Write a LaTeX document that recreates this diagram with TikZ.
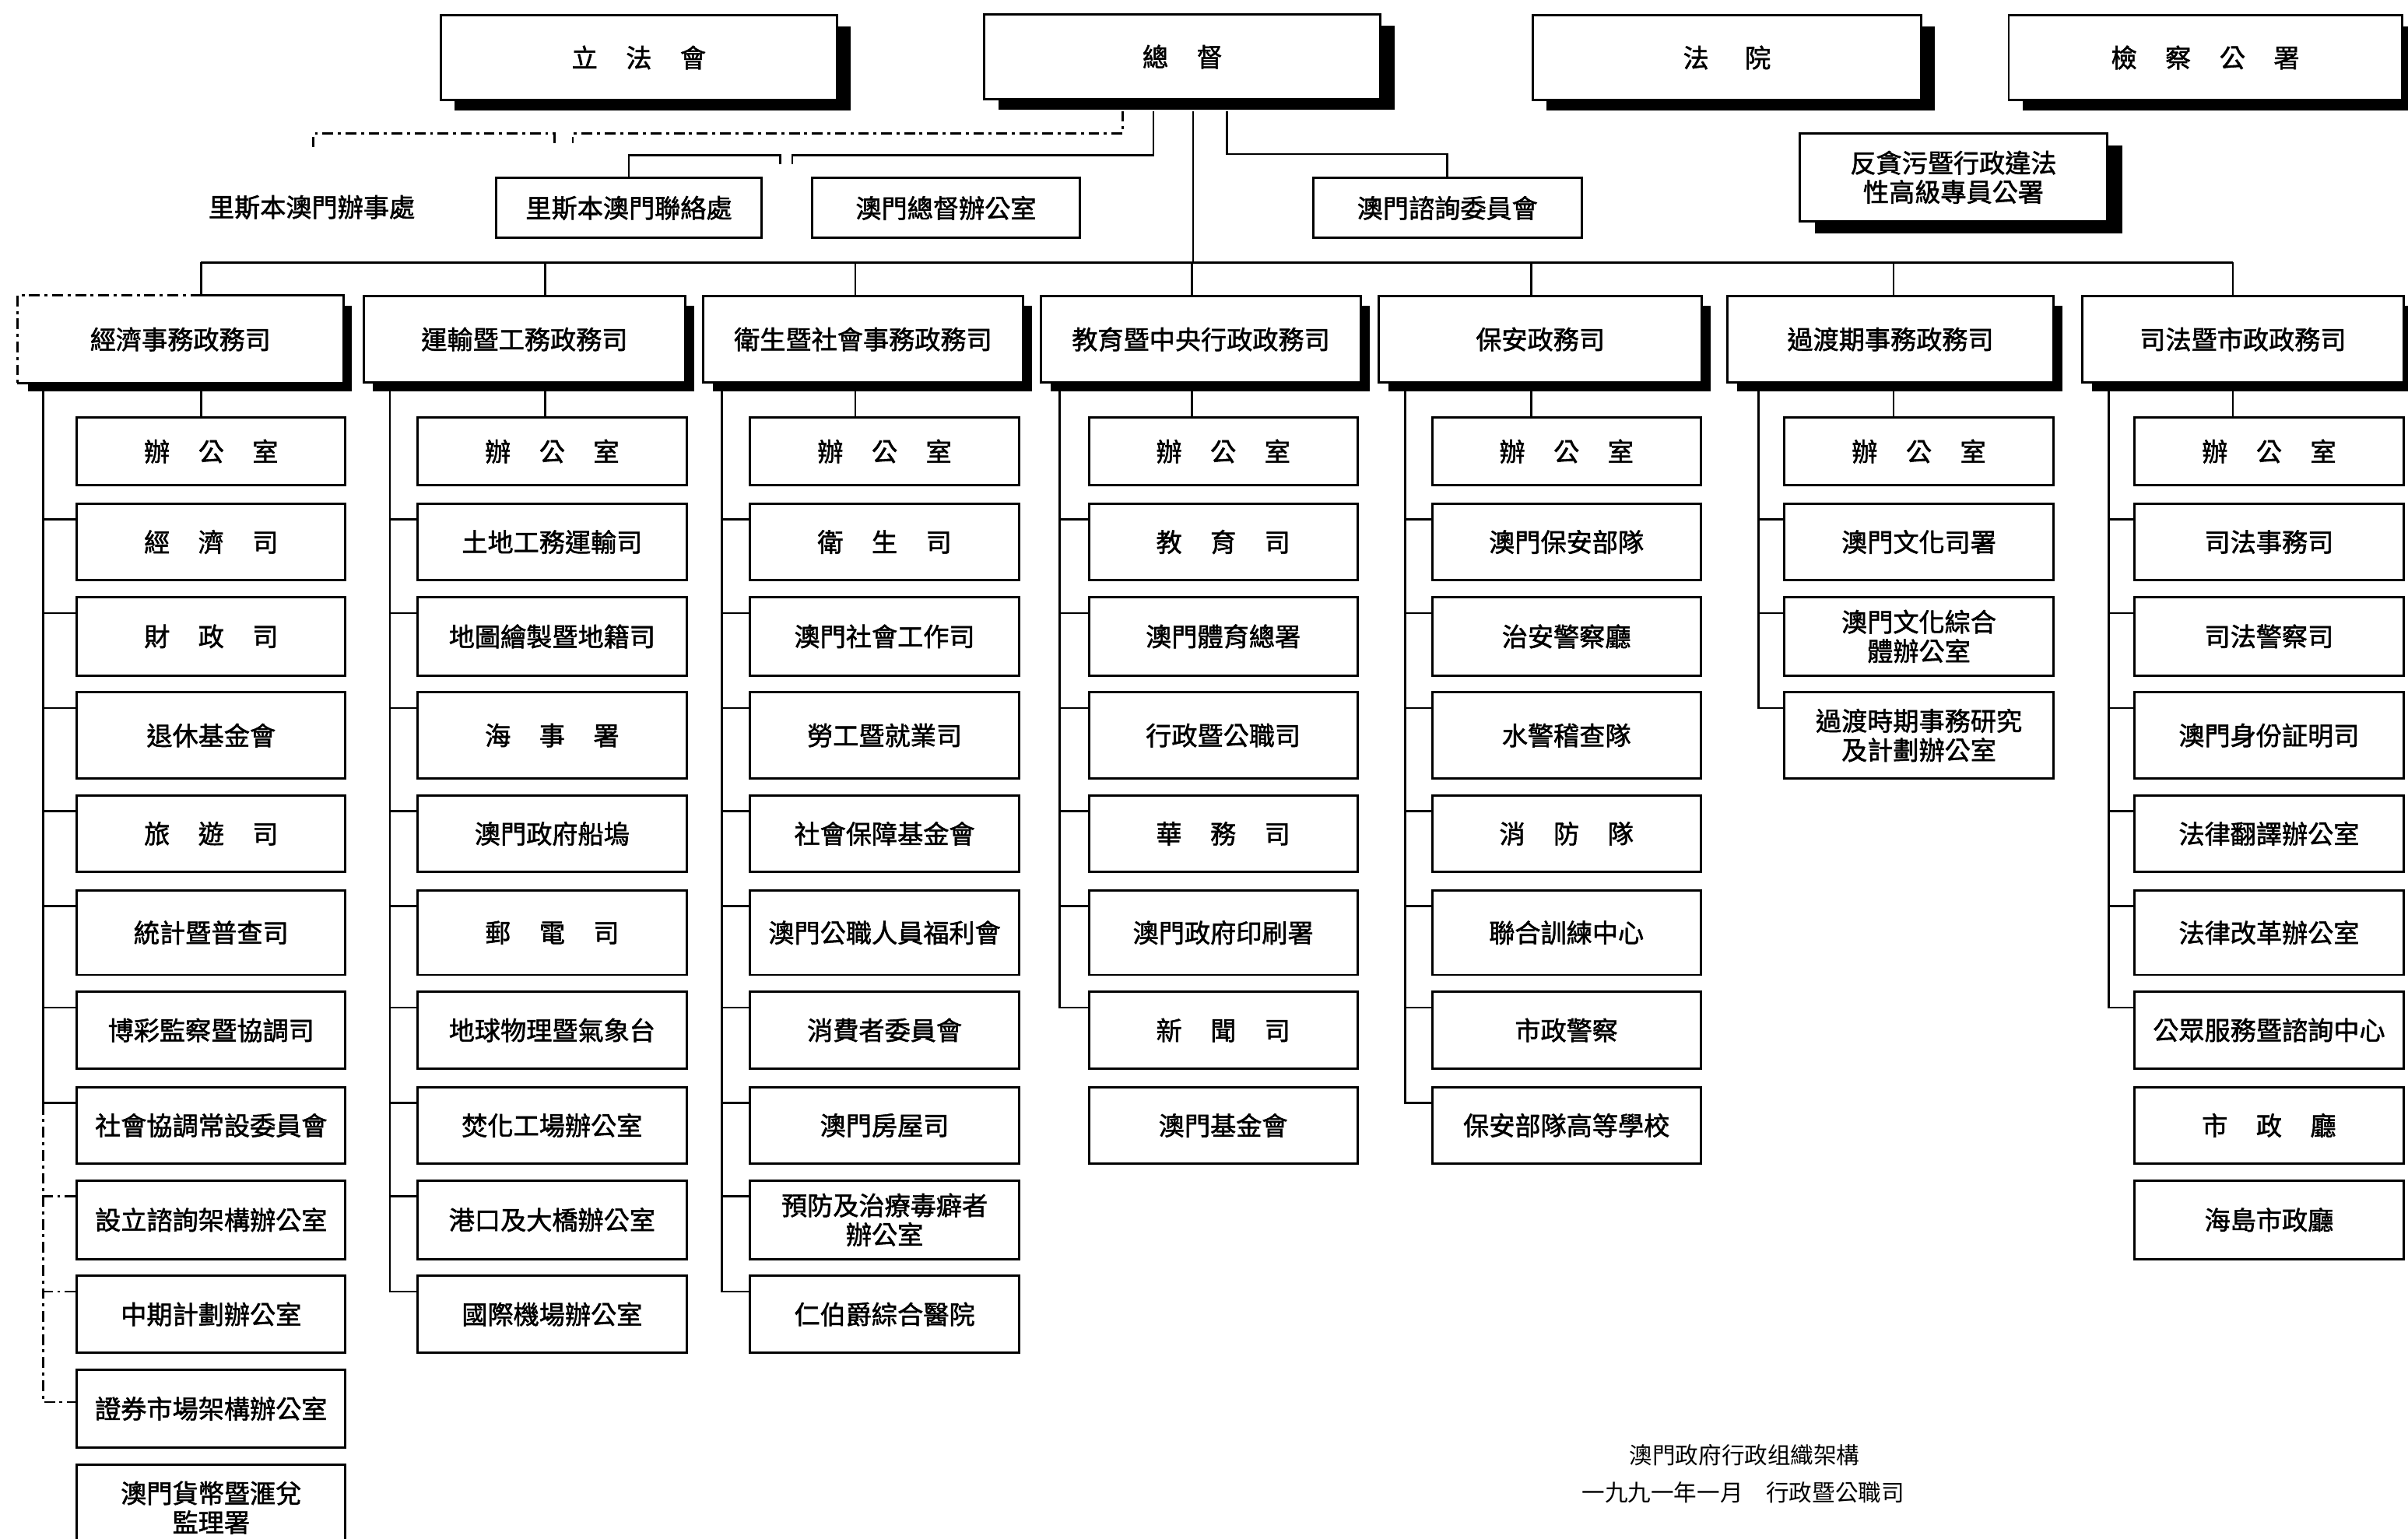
\documentclass[tikz,border=0pt]{standalone}
\usepackage{fontspec}
\newfontfamily\cjk{Noto Sans CJK TC}
\newfontfamily\cjkb[FakeBold=1.6]{Noto Sans CJK TC}
\usetikzlibrary{shadows}
\newcommand\gapA{\hspace{1.1em}}
\newcommand\gapW{\hspace{1.4em}}
\newcommand\rowy[1]{\ifcase#1\or294\or353\or414.5\or479\or543\or607.5\or671\or733\or794.5\or856\or917.5\or982\fi}
\newcommand\rowh[1]{\ifcase#1\or44\or50\or51\or56\or50\or55\or50\or50\or51\or50\or51\or56\fi}
\newcommand\sub[4]{\node[subbox, minimum height=\rowh{#3}pt] (#1) at (#2,\rowy{#3}) {#4};}
\begin{document}
\begin{tikzpicture}[x=1pt,y=-1pt,
  every node/.style={font=\cjkb\fontsize{16.8}{19}\selectfont, inner sep=0pt, align=center},
  obox/.style={draw, line width=1.5pt, fill=white, rectangle},
  topbox/.style={obox, minimum height=55pt, drop shadow={shadow xshift=9pt,shadow yshift=-7pt,opacity=1,fill=black}},
  deptbox/.style={obox, minimum height=56pt, drop shadow={shadow xshift=6pt,shadow yshift=-6pt,opacity=1,fill=black}},
  subbox/.style={obox, minimum width=175pt},
  conn/.style={line width=1.3pt},
  dashconn/.style={line width=1.3pt, dash pattern=on 7pt off 3pt on 2pt off 3pt},
  capt/.style={font=\cjk\fontsize{15}{17}\selectfont},
]
\path[use as bounding box] (0,0) rectangle (1568,1002);
\clip (0,0) rectangle (1568,1002);
\fill[white] (0,0) rectangle (1568,1002);

% ---- top level ----
\node[topbox, minimum width=258pt] (T1) at (416,37.5) {立\gapA 法\gapA 會};
\node[topbox, minimum width=258pt] (T2) at (770,37) {總\gapA 督};
\node[topbox, minimum width=253pt] (T3) at (1124.5,37.5) {法\gapW 院};
\node[topbox, minimum width=256pt] (T4) at (1436,37.5) {檢\gapA 察\gapA 公\gapA 署};

% ---- second level ----
\node[obox, minimum width=173pt, minimum height=39pt] (S1) at (409.5,135.5) {里斯本澳門聯絡處};
\node[obox, minimum width=174pt, minimum height=39pt] (S2) at (616,135.5) {澳門總督辦公室};
\node[obox, minimum width=175pt, minimum height=39pt] (S3) at (942.5,135.5) {澳門諮詢委員會};
\node[obox, minimum width=200pt, minimum height=57pt,
      drop shadow={shadow xshift=10pt,shadow yshift=-8pt,opacity=1,fill=black}] (AC) at (1272,115.5)
      {反貪污暨行政違法\\性高級專員公署};
\node (LB) at (203,135) {里斯本澳門辦事處};

\coordinate (stubA) at (516,107);
\coordinate (stubB) at (508,107);
\coordinate (dA) at (373,93);
\coordinate (dB) at (361,93);
\coordinate (dC) at (204,97);
\draw[conn] ([xshift=-19pt,yshift=-7pt]T2.south) |- ([yshift=6pt]stubA) -- (stubA);
\draw[conn] (stubB) -- ([yshift=6pt]stubB) -| (S1.north);
\draw[dashconn] ([xshift=-39pt,yshift=-7pt]T2.south) |- ([yshift=6pt]dA) -- (dA);
\draw[dashconn] (dB) -- ([yshift=6pt]dB) -| (dC);
\draw[conn] ([xshift=29pt,yshift=-7pt]T2.south) |- ([yshift=15pt]S3.north) -- (S3.north);

% ---- bus ----
\coordinate (pT) at (777,171);
\coordinate (p1) at (131,171);
\coordinate (p2) at (355,171);
\coordinate (p3) at (557,171);
\coordinate (p4) at (776,171);
\coordinate (p5) at (997,171);
\coordinate (p6) at (1233,171);
\coordinate (p7) at (1454,171);
\draw[conn] ([xshift=7pt,yshift=-7pt]T2.south) -- (pT);
\draw[conn] (p1) -- (p7);

% ---- departments ----
\node[deptbox, draw=none, minimum width=211pt] (D1) at (117.5,221) {經濟事務政務司};
\node[deptbox, minimum width=209pt] (D2) at (341.5,221) {運輸暨工務政務司};
\node[deptbox, minimum width=208pt] (D3) at (562,221) {衛生暨社會事務政務司};
\node[deptbox, minimum width=208pt] (D4) at (782,221) {教育暨中央行政政務司};
\node[deptbox, minimum width=210pt] (D5) at (1003,221) {保安政務司};
\node[deptbox, minimum width=212pt] (D6) at (1231,221) {過渡期事務政務司};
\node[deptbox, minimum width=209pt] (D7) at (1460.5,221) {司法暨市政政務司};
\draw[line width=1.5pt] (p1 |- D1.north) -- (D1.north east) -- (D1.south east) -- (D1.south west);
\draw[dashconn, line width=1.5pt] (p1 |- D1.north) -- (D1.north west) -- (D1.south west);
\foreach \i in {1,...,7} \draw[conn] (p\i) -- (p\i |- D\i.north);

% ---- column 1 ----
\sub{a1}{137.5}{1}{辦\gapA 公\gapA 室}
\sub{a2}{137.5}{2}{經\gapA 濟\gapA 司}
\sub{a3}{137.5}{3}{財\gapA 政\gapA 司}
\sub{a4}{137.5}{4}{退休基金會}
\sub{a5}{137.5}{5}{旅\gapA 遊\gapA 司}
\sub{a6}{137.5}{6}{統計暨普查司}
\sub{a7}{137.5}{7}{博彩監察暨協調司}
\sub{a8}{137.5}{8}{社會協調常設委員會}
\sub{a9}{137.5}{9}{設立諮詢架構辦公室}
\sub{a10}{137.5}{10}{中期計劃辦公室}
\sub{a11}{137.5}{11}{證券市場架構辦公室}
\sub{a12}{137.5}{12}{澳門貨幣暨滙兌\\監理署}
% ---- column 2 ----
\sub{b1}{359.5}{1}{辦\gapA 公\gapA 室}
\sub{b2}{359.5}{2}{土地工務運輸司}
\sub{b3}{359.5}{3}{地圖繪製暨地籍司}
\sub{b4}{359.5}{4}{海\gapA 事\gapA 署}
\sub{b5}{359.5}{5}{澳門政府船塢}
\sub{b6}{359.5}{6}{郵\gapA 電\gapA 司}
\sub{b7}{359.5}{7}{地球物理暨氣象台}
\sub{b8}{359.5}{8}{焚化工場辦公室}
\sub{b9}{359.5}{9}{港口及大橋辦公室}
\sub{b10}{359.5}{10}{國際機場辦公室}
% ---- column 3 ----
\sub{c1}{576}{1}{辦\gapA 公\gapA 室}
\sub{c2}{576}{2}{衛\gapA 生\gapA 司}
\sub{c3}{576}{3}{澳門社會工作司}
\sub{c4}{576}{4}{勞工暨就業司}
\sub{c5}{576}{5}{社會保障基金會}
\sub{c6}{576}{6}{澳門公職人員福利會}
\sub{c7}{576}{7}{消費者委員會}
\sub{c8}{576}{8}{澳門房屋司}
\sub{c9}{576}{9}{預防及治療毒癖者\\辦公室}
\sub{c10}{576}{10}{仁伯爵綜合醫院}
% ---- column 4 ----
\sub{d1}{796.5}{1}{辦\gapA 公\gapA 室}
\sub{d2}{796.5}{2}{教\gapA 育\gapA 司}
\sub{d3}{796.5}{3}{澳門體育總署}
\sub{d4}{796.5}{4}{行政暨公職司}
\sub{d5}{796.5}{5}{華\gapA 務\gapA 司}
\sub{d6}{796.5}{6}{澳門政府印刷署}
\sub{d7}{796.5}{7}{新\gapA 聞\gapA 司}
\sub{d8}{796.5}{8}{澳門基金會}
% ---- column 5 ----
\sub{e1}{1020}{1}{辦\gapA 公\gapA 室}
\sub{e2}{1020}{2}{澳門保安部隊}
\sub{e3}{1020}{3}{治安警察廳}
\sub{e4}{1020}{4}{水警稽查隊}
\sub{e5}{1020}{5}{消\gapA 防\gapA 隊}
\sub{e6}{1020}{6}{聯合訓練中心}
\sub{e7}{1020}{7}{市政警察}
\sub{e8}{1020}{8}{保安部隊高等學校}
% ---- column 6 ----
\sub{f1}{1249.5}{1}{辦\gapA 公\gapA 室}
\sub{f2}{1249.5}{2}{澳門文化司署}
\sub{f3}{1249.5}{3}{澳門文化綜合\\體辦公室}
\sub{f4}{1249.5}{4}{過渡時期事務研究\\及計劃辦公室}
% ---- column 7 ----
\sub{g1}{1477.5}{1}{辦\gapA 公\gapA 室}
\sub{g2}{1477.5}{2}{司法事務司}
\sub{g3}{1477.5}{3}{司法警察司}
\sub{g4}{1477.5}{4}{澳門身份証明司}
\sub{g5}{1477.5}{5}{法律翻譯辦公室}
\sub{g6}{1477.5}{6}{法律改革辦公室}
\sub{g7}{1477.5}{7}{公眾服務暨諮詢中心}
\sub{g8}{1477.5}{8}{市\gapA 政\gapA 廳}
\sub{g9}{1477.5}{9}{海島市政廳}

% ---- drops below departments ----
\coordinate (q1) at (131,255);
\coordinate (q2) at (355,255);
\coordinate (q3) at (557,255);
\coordinate (q4) at (776,255);
\coordinate (q5) at (997,255);
\coordinate (q6) at (1233,255);
\coordinate (q7) at (1454,255);
\draw[conn] (q1) -- (q1 |- a1.north);
\draw[conn] (q2) -- (q2 |- b1.north);
\draw[conn] (q3) -- (q3 |- c1.north);
\draw[conn] (q4) -- (q4 |- d1.north);
\draw[conn] (q5) -- (q5 |- e1.north);
\draw[conn] (q6) -- (q6 |- f1.north);
\draw[conn] (q7) -- (q7 |- g1.north);

% ---- rails ----
\coordinate (r1) at (28,255);
\coordinate (r2) at (254,255);
\coordinate (r3) at (470,255);
\coordinate (r4) at (690,255);
\coordinate (r5) at (915,255);
\coordinate (r6) at (1145,255);
\coordinate (r7) at (1373,255);
\foreach \b in {a2,a3,a4,a5,a6,a7,a8} \draw[conn] (r1) |- ([yshift=-11pt]\b.north west);
\coordinate (r1m) at (28,719);
\draw[dashconn] (r1m) |- ([yshift=-22pt]a11.north west);
\draw[dashconn] ([yshift=-11pt]a9.north west) -- ++(-22,0);
\draw[dashconn] ([yshift=-11pt]a10.north west) -- ++(-22,0);
\foreach \b in {b2,b3,b4,b5,b6,b7,b8,b9,b10} \draw[conn] (r2) |- ([yshift=-11pt]\b.north west);
\foreach \b in {c2,c3,c4,c5,c6,c7,c8,c9,c10} \draw[conn] (r3) |- ([yshift=-11pt]\b.north west);
\foreach \b in {d2,d3,d4,d5,d6,d7} \draw[conn] (r4) |- ([yshift=-11pt]\b.north west);
\foreach \b in {e2,e3,e4,e5,e6,e7,e8} \draw[conn] (r5) |- ([yshift=-11pt]\b.north west);
\foreach \b in {f2,f3,f4} \draw[conn] (r6) |- ([yshift=-11pt]\b.north west);
\foreach \b in {g2,g3,g4,g5,g6,g7} \draw[conn] (r7) |- ([yshift=-11pt]\b.north west);

% ---- caption ----
\node[capt] (cap1) at (1136,948) {澳門政府行政组織架構};
\node[capt] (cap2) at (1135,972) {一九九一年一月\hspace{1em}行政暨公職司};
\end{tikzpicture}
\end{document}
